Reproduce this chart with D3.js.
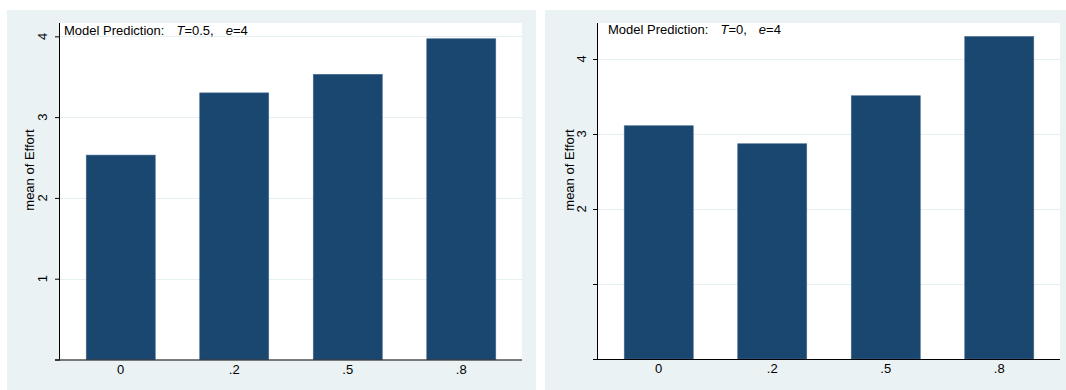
<!DOCTYPE html>
<html>
<head>
<meta charset="utf-8">
<script src="https://cdn.jsdelivr.net/npm/d3@7"></script>
<style>
  html, body { margin: 0; padding: 0; background: #ffffff; }
  svg { display: block; }
  text { font-family: "Liberation Sans", Arial, Helvetica, sans-serif; fill: #000; }
</style>
</head>
<body>
<svg id="chart" width="1066" height="390"></svg>
<script>
// ---- data ----
const categories = ["0", ".2", ".5", ".8"];
const leftValues = [2.53, 3.30, 3.53, 3.97];
const rightValues = [3.11, 2.87, 3.51, 4.30];
const leftTicks = [1, 2, 3, 4];
const leftTickLabels = ["1", "2", "3", "4"];
const rightTicks = [1, 2, 3, 4];
const rightTickLabels = ["", "2", "3", "4"];
const yTitle = "mean of Effort";
const leftT = "0.5";
const rightT = "0";
const eValue = "4";

// ---- styles ----
const panelBg = "#eaf2f3";
const gridColor = "#e6eff1";
const barColor = "#1a476f";
const barEdge = "#48698f";
const fontSize = 13;

const svg = d3.select("#chart");

function panel(cfg) {
  const g = svg.append("g");
  g.append("rect").attr("x", cfg.bx).attr("y", cfg.by).attr("width", cfg.bw).attr("height", cfg.bh)
    .attr("fill", panelBg);
  g.append("rect").attr("x", cfg.px0).attr("y", cfg.py0)
    .attr("width", cfg.px1 - cfg.px0).attr("height", cfg.py1 - cfg.py0).attr("fill", "#fff");

  const x = d3.scaleBand().domain(categories).range([cfg.px0, cfg.px1])
    .paddingInner(0.392).paddingOuter(0.231);
  const y = d3.scaleLinear().domain([0, cfg.ymax]).range([cfg.py1, cfg.py0]);

  g.selectAll("line.grid").data(cfg.ticks).enter().append("line")
    .attr("x1", cfg.px0).attr("x2", cfg.px1)
    .attr("y1", d => Math.round(y(d)) + 0.5).attr("y2", d => Math.round(y(d)) + 0.5)
    .attr("stroke", gridColor).attr("stroke-width", 1.2);

  g.selectAll("rect.bar").data(cfg.values).enter().append("rect")
    .attr("x", (d, i) => x(categories[i]))
    .attr("y", d => y(d))
    .attr("width", x.bandwidth())
    .attr("height", d => y(0) - y(d))
    .attr("fill", barColor)
    .attr("stroke", barEdge).attr("stroke-width", 0.6);

  const yAxis = d3.axisLeft(y).tickValues([0].concat(cfg.ticks)).tickSize(5).tickPadding(6)
    .tickFormat(() => "");
  const ya = g.append("g").attr("transform", `translate(${cfg.px0},0)`).call(yAxis);
  ya.select(".domain").attr("stroke", "#000").attr("d", `M-0.5,${cfg.py0}V${cfg.py1}`);
  ya.selectAll(".tick line").attr("stroke", "#000");

  g.selectAll("text.ylab").data(cfg.ticks).enter().append("text")
    .attr("transform", (d) => `translate(${cfg.labX},${y(d)}) rotate(-90)`)
    .attr("text-anchor", "middle")
    .style("font-size", fontSize + "px")
    .text((d, i) => cfg.tickLabels[i]);

  g.append("text")
    .attr("transform", `translate(${cfg.titleX},170) rotate(-90)`)
    .attr("text-anchor", "middle")
    .style("font-size", fontSize + "px")
    .text(yTitle);

  const xAxis = d3.axisBottom(x).tickSize(0).tickPadding(0);
  const xa = g.append("g").attr("transform", `translate(0,${cfg.py1})`).call(xAxis);
  xa.select(".domain").attr("stroke", "#000").attr("d", `M${cfg.px0 - 5},0.5H${cfg.px1}`);
  xa.selectAll(".tick text").attr("dy", null).attr("y", 14)
    .style("font-size", fontSize + "px")
    .style("font-family", '"Liberation Sans", Arial, sans-serif').attr("fill", "#000");

  const t = g.append("text").attr("x", cfg.noteX).attr("y", cfg.noteY)
    .style("font-size", fontSize + "px");
  t.append("tspan").text("Model Prediction:");
  t.append("tspan").attr("dx", 12).style("font-style", "italic").text("T");
  t.append("tspan").text("=" + cfg.T + ",");
  t.append("tspan").attr("dx", 12).style("font-style", "italic").text("e");
  t.append("tspan").text("=" + eValue);
}

panel({
  bx: 7, by: 10, bw: 529, bh: 390,
  px0: 60, px1: 522, py0: 23, py1: 359.5,
  ymax: 4.165, values: leftValues, ticks: leftTicks, tickLabels: leftTickLabels,
  labX: 47, titleX: 34, noteX: 64, noteY: 35, T: leftT
});

panel({
  bx: 545, by: 10, bw: 529, bh: 390,
  px0: 598, px1: 1060, py0: 23, py1: 359,
  ymax: 4.48, values: rightValues, ticks: rightTicks, tickLabels: rightTickLabels,
  labX: 586, titleX: 574, noteX: 608, noteY: 34, T: rightT
});
</script>
</body>
</html>
